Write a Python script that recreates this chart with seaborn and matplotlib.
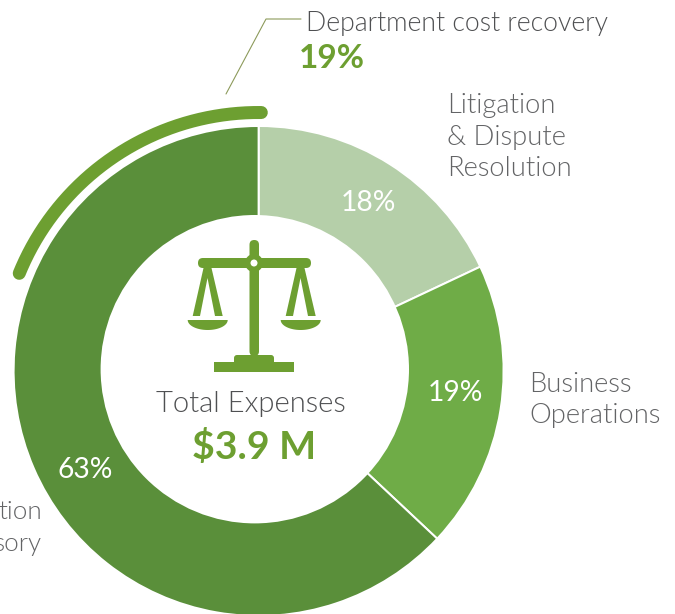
import numpy as np
import matplotlib
matplotlib.use("Agg")
import matplotlib.pyplot as plt
from matplotlib.patches import Polygon, Circle, Rectangle, FancyBboxPatch
import seaborn as sns

# ---- data ----
segments = ["Litigation\n& Dispute\nResolution", "Business\nOperations", "tion\nsory"]
shares = [18, 19, 63]
share_labels = ["18%", "19%", "63%"]
recovery_share = 19
recovery_label = "Department cost recovery"
center_title = "Total Expenses"
center_value = "$3.9 M"

DARK, MID, LIGHT = "#5a8f3a", "#6fac47", "#b5cfa9"
ACCENT = "#6d9f31"
GRAY = "#4f5052"
GRAY2 = "#636466"

W, H = 675, 614
sns.set_theme(style="white")
plt.rcParams["font.family"] = ["Lato", "DejaVu Sans"]

fig = plt.figure(figsize=(W / 100, H / 100), dpi=100)
ax = fig.add_axes([0, 0, 1, 1])

def px(v):
    return v * 72 / 100

Y = lambda y: H - y
cx, cy, R = 258.6, 371, 245

# donut: pie clockwise from 12 o'clock, hole slightly off-centre as in the reference
ax.pie(shares, colors=[LIGHT, MID, DARK], startangle=90, counterclock=False,
       center=(cx, Y(cy)), radius=R, frame=False,
       wedgeprops=dict(edgecolor="white", linewidth=px(2)))
ax.add_patch(Circle((254.8, Y(369.2)), 154.2, fc="white", ec="none", zorder=3))
ax.set_xlim(0, W)
ax.set_ylim(0, H)
ax.set_aspect("equal")
ax.axis("off")

# recovery arc above the donut, spanning its share of the circle
t = np.radians(89.4 + np.linspace(0, recovery_share / 100 * 360, 200))
ra = 258.5
ax.plot(cx + ra * np.cos(t), Y(cy) + ra * np.sin(t), color=ACCENT, lw=px(13),
        solid_capstyle="round", clip_on=False)

# leader line
ax.plot([226, 266, 301], [Y(94), Y(19), Y(19)], color="#8c9a5a", lw=px(1.1))

def T(x, y, s, **kw):
    ax.text(x, Y(y), s, zorder=6, **kw)

light = dict(fontweight=300)
T(306, 23.5, recovery_label, fontsize=19.2, color=GRAY, ha="left", va="center", **light)
T(299, 59, f"{recovery_share}%", fontsize=24, color=ACCENT, ha="left", va="center", fontweight="bold")

for y, s in zip([106, 137, 168], segments[0].split("\n")):
    T(447, y, s, fontsize=19.7, color=GRAY2, ha="left", va="center", **light)
for y, s in zip([385, 416], segments[1].split("\n")):
    T(529, y, s, fontsize=19.7, color=GRAY2, ha="left", va="center", **light)
for y, s in zip([512, 544], segments[2].split("\n")):
    T(42, y, s, fontsize=18.8, color=GRAY2, ha="right", va="center", **light)

for (x, y), s in zip([(368.5, 203), (455, 393), (85, 470)], share_labels):
    T(x, y, s, fontsize=20.3, color="white", ha="center", va="center")

T(250.5, 404, center_title, fontsize=21.1, color=GRAY, ha="center", va="center", **light)
T(254, 447, center_value, fontsize=28.3, color=ACCENT, ha="center", va="center", fontweight="bold")

# scales icon
def poly(pts):
    ax.add_patch(Polygon([(x, Y(y)) for x, y in pts], closed=True, fc=ACCENT, ec="none", zorder=5))

def bar(x0, x1, y0, y1, rnd=0):
    if rnd:
        ax.add_patch(FancyBboxPatch((x0 + rnd, Y(y1) + rnd), x1 - x0 - 2 * rnd, y1 - y0 - 2 * rnd,
                                    boxstyle=f"round,pad={rnd},rounding_size={rnd}", fc=ACCENT, ec="none", zorder=5))
    else:
        ax.add_patch(Rectangle((x0, Y(y1)), x1 - x0, y1 - y0, fc=ACCENT, ec="none", zorder=5))

bar(249.5, 259, 240, 356, 4.7)
bar(198, 311, 258, 268, 4.9)
ax.add_patch(Circle((254, Y(263)), 9, fc=ACCENT, ec="none", zorder=5))
ax.add_patch(Circle((254, Y(263)), 3.5, fc="white", ec="none", zorder=5.5))
for dx in (0, 93):
    poly([(203.5 + dx, 268), (192.7 + dx, 316), (200 + dx, 316), (207.5 + dx, 278),
          (215 + dx, 316), (222.7 + dx, 316), (211.5 + dx, 268)])
    a = np.linspace(0, np.pi, 40)
    poly([(207.7 + dx + 20 * np.cos(v), 320 + 10 * np.sin(v)) for v in a])
bar(214, 294, 362, 372)
bar(234, 274, 355, 366, 3)

fig.savefig("out.png", dpi=100)
